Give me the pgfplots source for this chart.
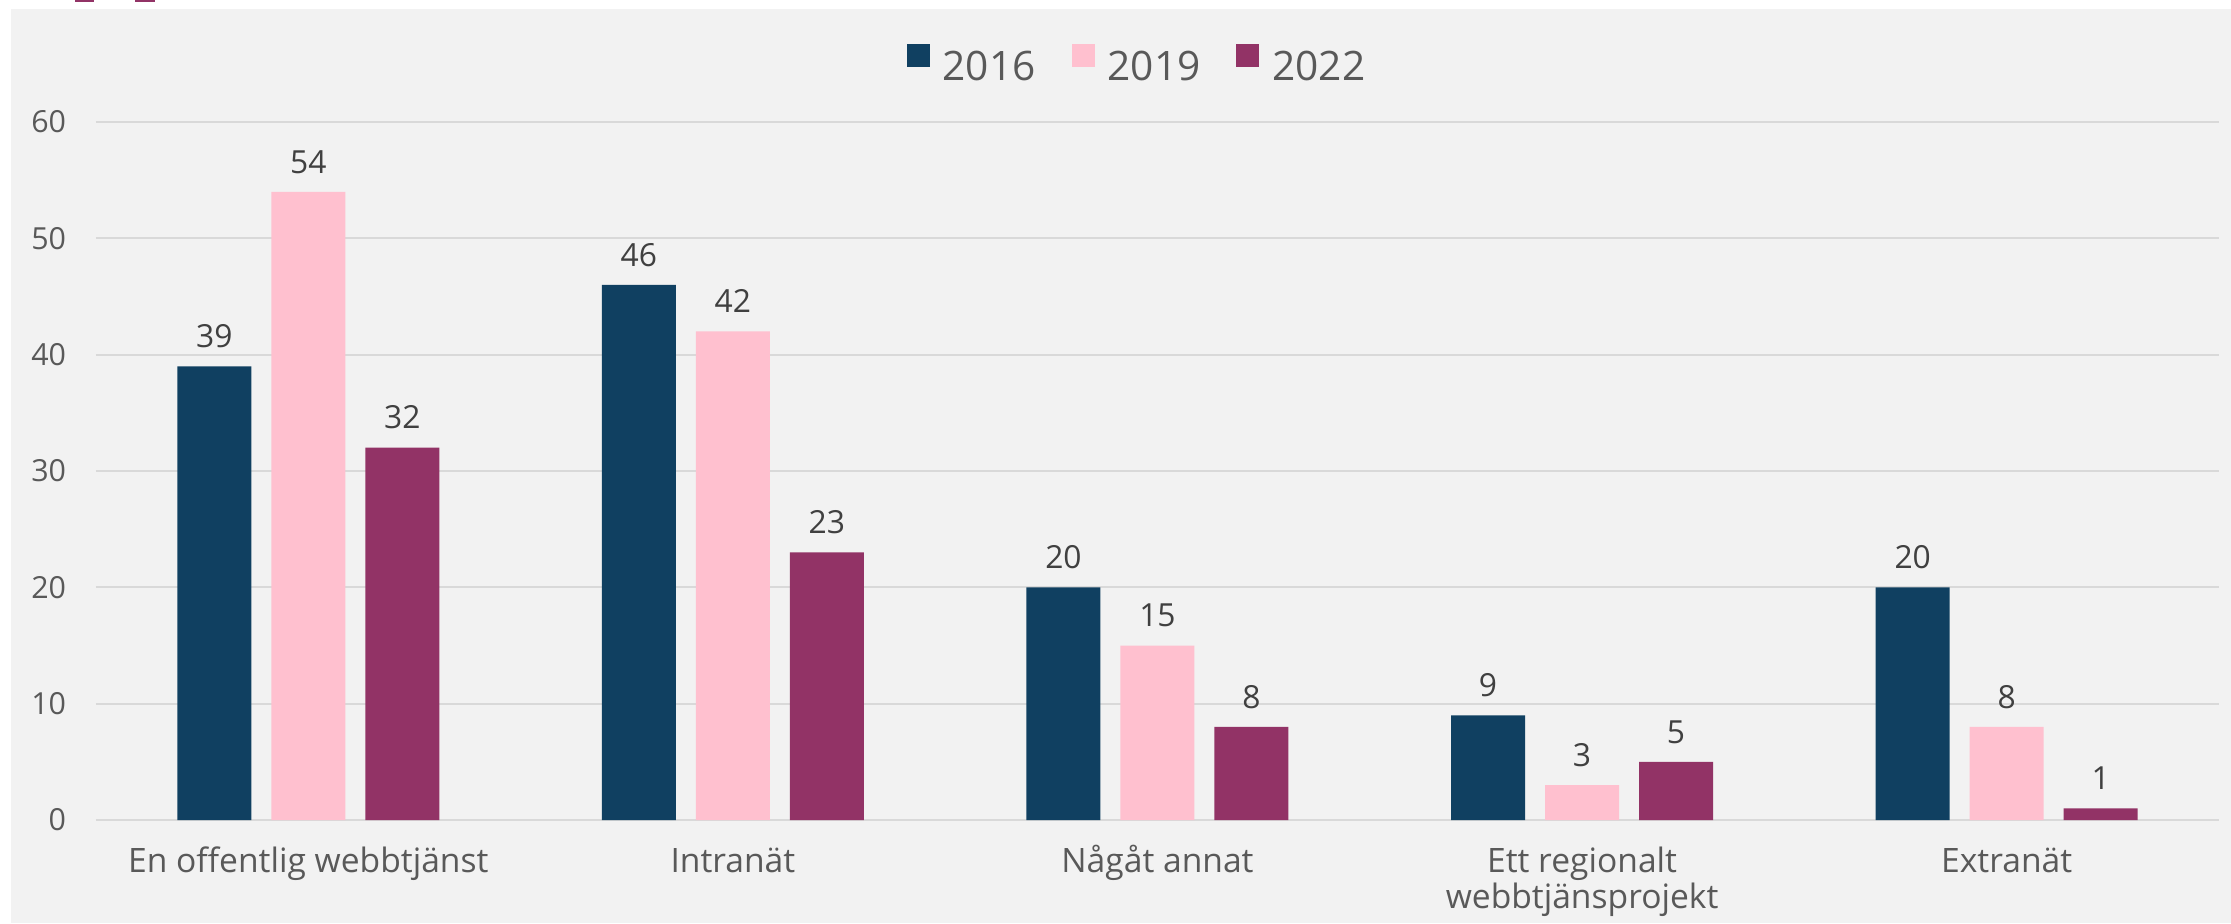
\documentclass[border=0pt]{standalone}
\usepackage{fontspec}
\setmainfont{Open Sans}
\usepackage{pgfplots}
\pgfplotsset{compat=1.18}
\definecolor{bgc}{HTML}{F2F2F2}
\definecolor{gridc}{HTML}{D9D9D9}
\definecolor{cA}{HTML}{104061}
\definecolor{cB}{HTML}{FFC0CF}
\definecolor{cC}{HTML}{923366}
\definecolor{txt}{HTML}{595959}
\definecolor{dtxt}{HTML}{404040}
\newcommand\sx{\rule{0pt}{13.5pt}}
\begin{document}
\begin{tikzpicture}
\fill[white] (-48pt,-51.5pt) rectangle (1067.5pt,410pt);
\fill[bgc] (-42.5pt,-51.5pt) rectangle (1067.5pt,405.5pt);
\fill[cC] (-10.5pt,410pt) rectangle (-1pt,409.2pt);
\fill[cC] (19.5pt,410pt) rectangle (29.5pt,409.2pt);
\begin{axis}[
  at={(0,0)}, anchor=south west,
  scale only axis,
  width=1061.5pt, height=349pt,
  xmin=-0.5, xmax=4.5, ymin=0, ymax=60,
  ytick={0,10,...,60},
  xtick={0,1,2,3,4},
  xticklabels={\sx En offentlig webbtjänst, \sx Intranät, \sx Någåt annat, {\sx Ett regionalt\\webbtjänsprojekt}, \sx Extranät},
  ymajorgrids,
  grid style={gridc, line width=1pt},
  axis line style={draw=none},
  major tick length=0pt,
  /pgf/number format/assume math mode=true,
  yticklabel style={font=\fontsize{15.2pt}{18pt}\selectfont, text=txt, anchor=east, inner sep=0pt, xshift=-14.75pt},
  xticklabel style={font=\fontsize{16.8pt}{18pt}\selectfont, text=txt, align=center, anchor=north, inner sep=0pt, yshift=-12.3pt},
  ybar=10pt, bar width=37pt,
  nodes near coords,
  nodes near coords style={font=\fontsize{15.9pt}{18pt}\selectfont, text=dtxt, anchor=base, inner sep=0pt, yshift=9.4pt},
  legend columns=3,
  legend style={draw=none, fill=none, at={(0.4899,1.1117)}, anchor=north, inner sep=0pt, outer sep=0pt,
    font=\fontsize{20.3pt}{24pt}\selectfont, text=txt,
    nodes={inner sep=0pt},
    /tikz/every odd column/.append style={column sep=6.5pt},
    /tikz/every even column/.append style={column sep=18pt}},
  legend image code/.code={\fill[#1] (0pt,0.2pt) rectangle (11.5pt,11.7pt);},
]
\addplot[fill=cA, draw=none] coordinates {(0,39) (1,46) (2,20) (3,9) (4,20)};
\addplot[fill=cB, draw=none] coordinates {(0,54) (1,42) (2,15) (3,3) (4,8)};
\addplot[fill=cC, draw=none] coordinates {(0,32) (1,23) (2,8) (3,5) (4,1)};
\legend{2016,2019,2022}
\end{axis}
\pgfresetboundingbox
\path (-48pt,-51.5pt) rectangle (1067.5pt,410pt);
\end{tikzpicture}
\end{document}
